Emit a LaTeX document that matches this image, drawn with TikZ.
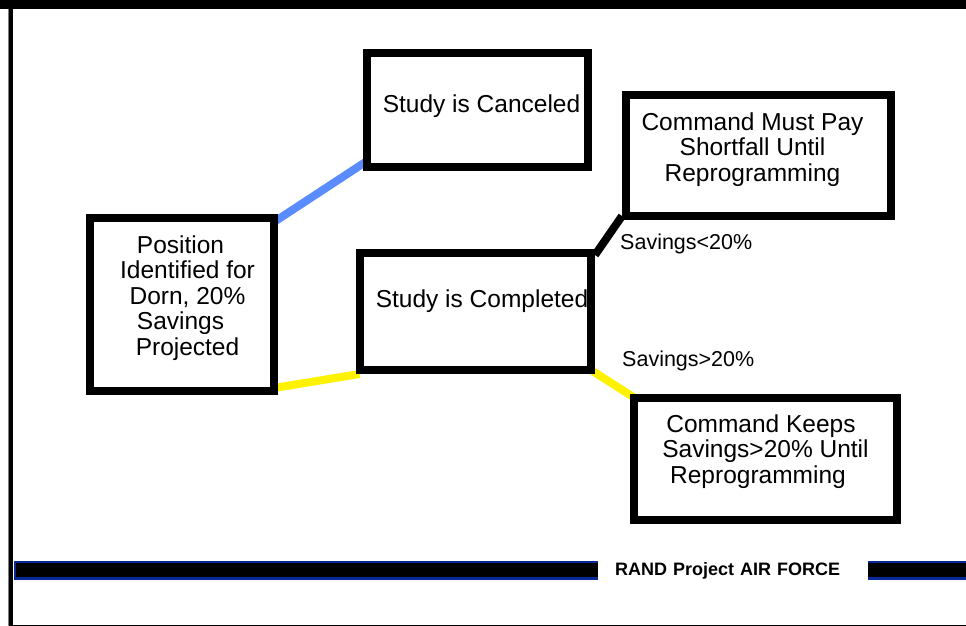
\documentclass[tikz,border=0pt]{standalone}
\usepackage{fontspec}
\setmainfont{Liberation Sans}
\usetikzlibrary{backgrounds}
\definecolor{linkblue}{RGB}{90,140,255}
\definecolor{barblue}{RGB}{10,40,150}

\begin{document}
\begin{tikzpicture}[
    x=1pt, y=-1pt,
    box/.style={draw, line width=8pt, fill=white, outer sep=0pt, inner sep=0pt},
    every label/.style={font=\fontsize{24.5}{25.5}\selectfont, align=center, inner sep=0pt},
    link/.style={line width=8pt},
    cond/.style={font=\fontsize{21.5}{24}\selectfont, anchor=base west, inner sep=0pt}]

    \useasboundingbox (0,0) rectangle (966,626);

    \fill (0,0) rectangle (966,8.7);
    \fill (9.3,0) rectangle (13.3,626);
    \draw[gray, line width=1pt] (8.7,8.7) -- (8.7,626);
    \draw[line width=1pt] (9.3,625.3) -- (966,625.3);

    \node[box, minimum width=184, minimum height=173,
        label={[xshift=5.5pt, yshift=6.8pt]center:{Position\rule{14pt}{0pt}\\Identified for\\Dorn, 20\%\\Savings\rule{14pt}{0pt}\\Projected}}] (pos) at (182,304.5) {};
    \node[box, minimum width=221, minimum height=114,
        label={[xshift=4pt, yshift=3.7pt]center:Study is Canceled}] (cancel) at (477.5,110) {};
    \node[box, minimum width=231.5, minimum height=117,
        label={[xshift=6.75pt, yshift=9.9pt]center:Study is Completed}] (done) at (475.25,311.5) {};
    \node[box, minimum width=264.5, minimum height=121,
        label={[xshift=-5.75pt, yshift=6.3pt]center:{Command Must Pay\\Shortfall Until\\Reprogramming}}] (short) at (758.25,155.5) {};
    \node[box, minimum width=263, minimum height=122.5,
        label={[yshift=7.5pt]center:{Command Keeps\rule{9pt}{0pt}\\Savings>20\% Until\\Reprogramming\rule{15pt}{0pt}}}] (keep) at (765.5,458.75) {};

    \begin{scope}[on background layer]
        \draw[link, linkblue] ([yshift=-4pt]pos.north east) -- ([yshift=6pt]cancel.south west);
        \draw[link, yellow] ([yshift=3pt]pos.south east) -- ([yshift=-4pt]done.south west);
        \draw[link] ([xshift=4pt, yshift=-2pt]done.north east) -- ([xshift=-4pt]short.south west);
        \draw[link, yellow] (done.south east) -- (keep.north west);
    \end{scope}

    \node[cond] (lt) at (620,249) {Savings<20\%};
    \node[cond] (gt) at (622,366) {Savings>20\%};

    \draw[barblue, line width=2.5pt, fill=black] (15.2,562) rectangle (970,578.5);
    \node[fill=white, anchor=west, text width=236pt, align=left, inner xsep=17pt, inner ysep=0pt,
        minimum height=24pt, font=\bfseries\fontsize{18}{20}\selectfont] (brand) at (598,571) {RAND Project AIR FORCE};

\end{tikzpicture}
\end{document}
